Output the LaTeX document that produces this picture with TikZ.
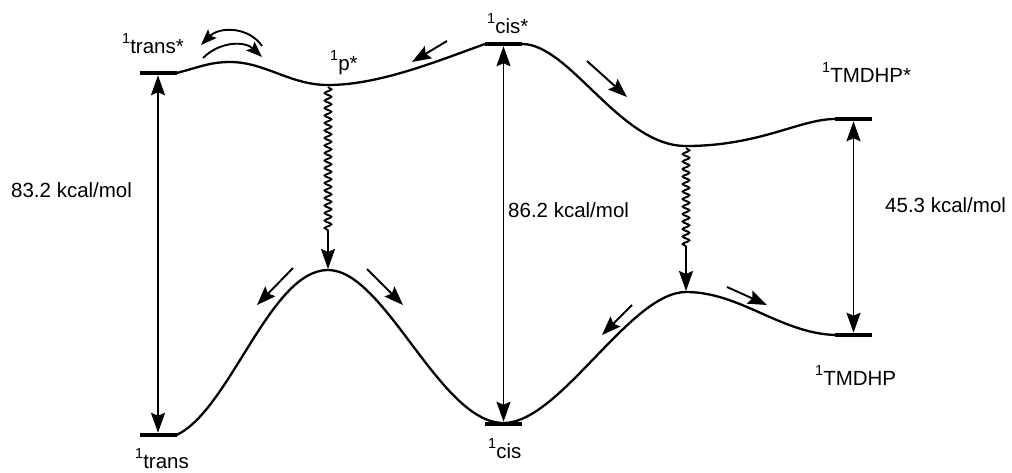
\documentclass[tikz,border=0pt]{standalone}
\usepackage{fontspec}
\setmainfont{Liberation Sans}
\usetikzlibrary{arrows.meta,decorations.pathmorphing}
\newcommand\supone{\raisebox{10pt}{\fontsize{14.5}{14.5}\selectfont 1}}
\begin{document}
\begin{tikzpicture}[x=1pt,y=-1pt,
  lvl/.style={fill=black, minimum width=37pt, minimum height=4.5pt, inner sep=0pt, outer sep=0pt},
  pes/.style={line width=2.3pt},
  tip/.style={Stealth[length=20pt,width=14pt,inset=3pt]},
  gap/.style={line width=1.9pt, {Stealth[length=20pt,width=14pt,inset=3pt]}-{Stealth[length=20pt,width=14pt,inset=3pt]}},
  flow/.style={line width=1.9pt, -{Stealth[length=19pt,width=14pt,inset=3pt]}},
  cflow/.style={line width=1.9pt, -{Stealth[length=16pt,width=12pt,inset=3pt]}},
  lbl/.style={anchor=base west, inner sep=0pt, font=\fontsize{20.5}{24}\selectfont},
  wavy/.style={line width=1.9pt, decorate, decoration={snake, segment length=7.5pt, amplitude=3.3pt, post length=#1}, -{Stealth[length=20pt,width=14pt,inset=3pt]}},
]
\useasboundingbox (0,0) rectangle (1012,472);
% energy levels
\node[lvl] (ts) at (158,73) {};
\node[lvl] (cs) at (503.5,44) {};
\node[lvl] (ms) at (853.5,119) {};
\node[lvl] (t) at (158,435) {};
\node[lvl] (c) at (503.5,424) {};
\node[lvl] (m) at (853.5,335) {};
% extrema of curves
\coordinate (pmin) at (328,85);
\coordinate (dmin) at (686,146);
\coordinate (pk1) at (328,270);
\coordinate (pk2) at (686,292);
\coordinate (cmin) at (503.5,423);
\coordinate (tb) at (230,62);
% upper surface
\draw[pes] (ts.east) .. controls (200,67) and (210,62) .. (tb)
  .. controls (265,62) and (290,85) .. (pmin)
  .. controls (380,85) and (440,60) .. (cs.west);
\draw[pes] (cs.east) .. controls (570,44) and (620,146) .. (dmin)
  .. controls (760,146) and (800,119) .. (ms.west);
% lower surface
\draw[pes] (t.east) .. controls (230,410) and (270,270) .. (pk1)
  .. controls (385,270) and (440,423) .. (cmin)
  .. controls (560,423) and (630,292) .. (pk2)
  .. controls (740,292) and (780,333) .. (m.west);
% energy gaps
\draw[gap] (ts.south) -- (t.north);
\draw[gap] (cs.south) -- (c.north);
\draw[gap] (ms.south) -- (m.north);
% wavy decay
\draw[wavy=36pt, shorten >=1pt] ([yshift=-2pt]pmin) -- (pk1);
\draw[wavy=44pt, shorten >=1pt] ([yshift=-2pt]dmin) -- (pk2);
% flow arrows
\coordinate (a1s) at (447,41); \coordinate (a1e) at (412,62);
\coordinate (a2s) at (587,61); \coordinate (a2e) at (627,97);
\coordinate (a3s) at (293,268); \coordinate (a3e) at (257,305);
\coordinate (a4s) at (367,269); \coordinate (a4e) at (403,305);
\coordinate (a5s) at (632,305); \coordinate (a5e) at (602,335);
\coordinate (a6s) at (727,287); \coordinate (a6e) at (767,305);
\draw[flow] (a1s) -- (a1e);
\draw[flow] (a2s) -- (a2e);
\draw[flow] (a3s) -- (a3e);
\draw[flow] (a4s) -- (a4e);
\draw[flow] (a5s) -- (a5e);
\draw[flow] (a6s) -- (a6e);
\coordinate (b1s) at (262,46); \coordinate (b1e) at (201,45);
\coordinate (b2s) at (203,58); \coordinate (b2e) at (262,57);
\draw[cflow] (b1s) .. controls (249,27) and (220,26) .. (b1e);
\draw[cflow] (b2s) .. controls (220,41) and (245,41) .. (b2e);
% labels
\node[lbl] (lts) at (122,53) {\supone trans*};
\node[lbl] (lp) at (330,70) {\supone p*};
\node[lbl] (lcs) at (487,33) {\supone cis*};
\node[lbl] (lms) at (822,82) {\supone TMDHP*};
\node[lbl] (lt) at (135,468) {\supone trans};
\node[lbl] (lc) at (488,458) {\supone cis};
\node[lbl] (lm) at (815,385) {\supone TMDHP};
\node[lbl] (e1) at (11,197) {83.2 kcal/mol};
\node[lbl] (e2) at (508,217) {86.2 kcal/mol};
\node[lbl] (e3) at (885,212) {45.3 kcal/mol};
\end{tikzpicture}
\end{document}
